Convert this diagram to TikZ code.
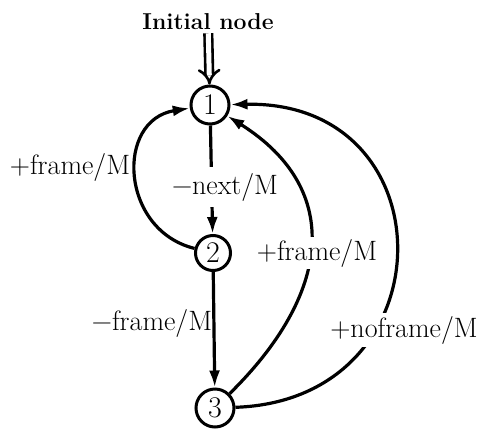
\documentclass[tikz,border=0pt]{standalone}
\usepackage{fontspec}
\usetikzlibrary{arrows.meta}
\begin{document}
\begin{tikzpicture}[x=1pt,y=-1pt,
  state/.style={circle,draw,line width=3pt,minimum size=38pt,inner sep=0pt,font=\fontsize{30}{32}\selectfont},
  edge/.style={line width=3.2pt,-{Latex[length=17pt,width=11pt]}},
  lbl/.style={font=\fontsize{28}{32}\selectfont,inner sep=1pt}]
\useasboundingbox (0,0) rectangle (481,431);
\node[state] (n1) at (210,105) {1};
\node[state,minimum size=35pt] (n2) at (213,253) {2};
\node[state] (n3) at (215,408) {3};
\node[font=\bfseries\fontsize{23}{26}\selectfont, inner sep=3pt] (init) at (208,22) {Initial node};
\draw[line width=2.6pt, double, double distance=5pt, -{Implies}] (init) -- (n1);
\draw[edge] (n1) -- (n2);
\draw[edge] (n2) -- (n3);
\draw[edge] (n2) .. controls (120,230) and (115,120) .. (n1);
\draw[edge] (n3) .. controls (330,295) and (345,190) .. (n1);
\draw[edge] (n3) .. controls (450,400) and (450,100) .. (n1);
\node[lbl] (l1) at (70,167) {+frame/M};
\node[lbl,fill=white,inner sep=6pt] (l2) at (225,187) {−next/M};
\node[lbl,fill=white,inner sep=2pt] (l3) at (317,253) {+frame/M};
\node[lbl] (l4) at (152,323) {−frame/M};
\node[lbl,fill=white,inner sep=3pt] (l5) at (404,330) {+noframe/M};
\end{tikzpicture}
\end{document}
